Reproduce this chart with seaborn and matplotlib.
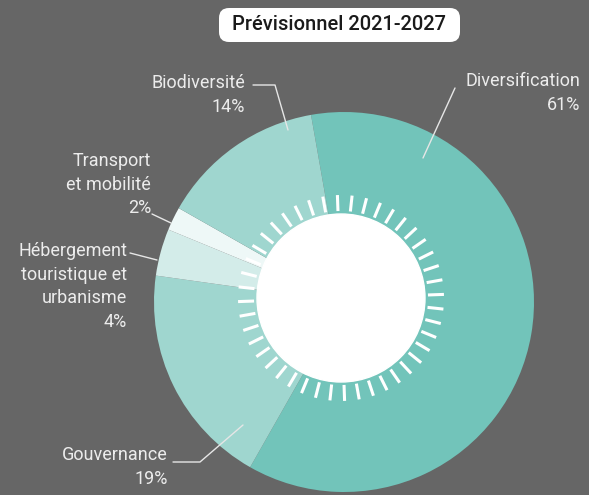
import numpy as np
import matplotlib.pyplot as plt
import seaborn as sns
from matplotlib.patches import Circle, FancyBboxPatch

# data
categories = ['Diversification', 'Gouvernance', 'Hébergement\ntouristique et\nurbanisme',
              'Transport\net mobilité', 'Biodiversité']
shares = [61, 19, 4, 2, 14]
colors = ['#72c4ba', '#9fd6cf', '#d3ece9', '#eef8f7', '#9fd6cf']

# label anchors in image pixels (right aligned text), leader lines
label_xy = [(580, 72), (168, 446), (127, 242), (151, 152), (245, 74)]
leaders = [
    [(455, 88), (423, 158)],
    [(173, 462), (200, 462), (243, 425)],
    [(130, 253), (157, 260)],
    [(152, 214), (171, 223)],
    [(253, 85), (275, 85), (288, 130)],
]

H = 495
bg = '#666666'
sns.set_theme(style='dark', rc={'figure.facecolor': bg, 'axes.facecolor': bg})
plt.rcParams['font.family'] = ['Roboto', 'DejaVu Sans']

fig = plt.figure(figsize=(5.89, 4.95), dpi=100)
ax = fig.add_axes([0, 0, 1, 1])

cx, cy, R = 344, H - 302, 190
ax.pie(shares, colors=colors, startangle=100, counterclock=False,
       center=(cx, cy), radius=R, wedgeprops=dict(linewidth=0))

# white core with sun rays
ix, iy, r_in = 341, H - 298, 84
ax.add_patch(Circle((ix, iy), r_in, color='white', zorder=5))
for a in np.arange(0, 360, 360 / 44):
    t = np.deg2rad(a + 2)
    ax.plot([ix + 87 * np.cos(t), ix + 103 * np.cos(t)],
            [iy + 87 * np.sin(t), iy + 103 * np.sin(t)],
            color='white', lw=2.2, solid_capstyle='butt', zorder=6)

for cat, val, (lx, ly), pts in zip(categories, shares, label_xy, leaders):
    ax.text(lx, H - ly, f'{cat}\n{val}%', ha='right', va='top', color='#ececec',
            fontsize=13, linespacing=1.4, zorder=7)
    xs = [p[0] for p in pts]
    ys = [H - p[1] for p in pts]
    ax.plot(xs, ys, color='#e6e6e6', lw=1, zorder=7)

# title badge
ax.add_patch(FancyBboxPatch((219, H - 42), 241, 34,
                            boxstyle='round,pad=0,rounding_size=10',
                            fc='white', ec='none', zorder=8))
ax.text(339, H - 25, 'Prévisionnel 2021-2027', ha='center', va='center',
        fontsize=14.5, color='#1a1a1a', fontweight='medium', zorder=9)

ax.set_xlim(0, 589)
ax.set_ylim(0, H)
ax.set_aspect('auto')
ax.axis('off')
fig.savefig('out.png', dpi=100, facecolor=bg)
